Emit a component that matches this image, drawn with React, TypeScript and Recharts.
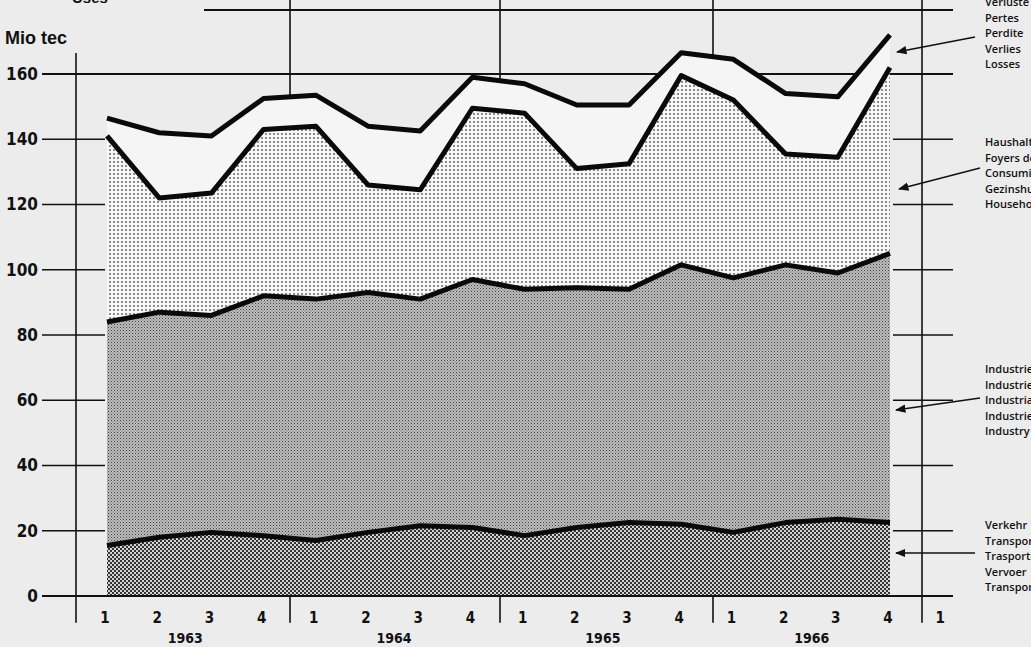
import { ComposedChart, Area, XAxis, YAxis, ReferenceLine } from "recharts";

// quarters 1963 Q1 .. 1966 Q4 (index on the x axis)
const quarterIndex = [0, 1, 2, 3, 4, 5, 6, 7, 8, 9, 10, 11, 12, 13, 14, 15];
const transport = [15.5, 18, 19.5, 18.5, 17, 19.5, 21.5, 21, 18.5, 21, 22.5, 22, 19.5, 22.5, 23.5, 22.5];
const industry = [68.5, 69, 66.5, 73.5, 74, 73.5, 69.5, 76, 75.5, 73.5, 71.5, 79.5, 78, 79, 75.5, 82.5];
const households = [57, 35, 37.5, 51, 53, 33, 33.5, 52.5, 54, 36.5, 38.5, 58, 54.5, 34, 35.5, 57];
const losses = [5.5, 20, 17.5, 9.5, 9.5, 18, 18, 9.5, 9, 19.5, 18, 7, 12.5, 18.5, 18.5, 10];

const quarterTicks = [0, 1, 2, 3, 4, 5, 6, 7, 8, 9, 10, 11, 12, 13, 14, 15, 16];
const yearTicks = [1.5, 5.5, 9.5, 13.5];
const yearLabels = ["1963", "1964", "1965", "1966"];
const yTicks = [0, 20, 40, 60, 80, 100, 120, 140, 160];

const legendLosses = ["Verluste", "Pertes", "Perdite", "Verlies", "Losses"];
const legendHouse = ["Haushalte", "Foyers domestiques", "Consumi domestici", "Gezinshuishoudingen", "Households"];
const legendIndustry = ["Industrie", "Industrie", "Industria", "Industrie", "Industry"];
const legendTransport = ["Verkehr", "Transports", "Trasporti", "Vervoer", "Transport"];

const data = quarterIndex.map((x, i) => ({
  x,
  transport: transport[i],
  industry: industry[i],
  households: households[i],
  losses: losses[i],
}));

const font = "'DejaVu Sans Condensed', 'DejaVu Sans', sans-serif";
const ink = "#111";

const QuarterTick = ({ x, y, payload }: any) => (
  <text x={x - 2} y={y + 19} textAnchor="middle" fontFamily={font} fontWeight={700} fontSize={15} fill={ink}>
    {(payload.value % 4) + 1}
  </text>
);

const YearTick = ({ x, y, payload }: any) => (
  <text x={x} y={y + 7} textAnchor="middle" fontFamily={font} fontWeight={700} fontSize={14} fill={ink}>
    {yearLabels[yearTicks.indexOf(payload.value)]}
  </text>
);

const ValueTick = ({ y, payload }: any) => (
  <text x={38} y={y + 6} textAnchor="end" fontFamily={font} fontWeight={700} fontSize={17} fill={ink}>
    {payload.value}
  </text>
);

function seg(x1: number, y1: number, x2: number, y2: number, key: string, w = 1.6, z?: number) {
  return (
    <ReferenceLine
      key={key}
      xAxisId="q"
      segment={[{ x: x1, y: y1 }, { x: x2, y: y2 }]}
      stroke={ink}
      strokeWidth={w}
      ifOverflow="visible"
      {...(z !== undefined ? { zIndex: z } : {})}
    />
  );
}

const legendGroups = [
  { lines: legendLosses, y: 6 },
  { lines: legendHouse, y: 146 },
  { lines: legendIndustry, y: 373 },
  { lines: legendTransport, y: 529 },
];

export default function App() {
  return (
    <div style={{ position: "absolute", left: 0, top: 0, width: 1031, height: 647, background: "#ececec", overflow: "hidden" }}>
      <svg width={0} height={0} style={{ position: "absolute" }}>
        <defs>
          <pattern id="pTransport" width={4} height={4} patternUnits="userSpaceOnUse">
            <rect width={4} height={4} fill="#d4d4d4" />
            <rect x={0} y={0} width={2} height={2} fill="#333" />
            <rect x={2} y={2} width={2} height={2} fill="#333" />
          </pattern>
          <pattern id="pIndustry" width={3} height={3} patternUnits="userSpaceOnUse">
            <rect width={3} height={3} fill="#bcbcbc" />
            <rect x={0} y={0} width={1} height={1} fill="#444" />
            <rect x={1.5} y={1.5} width={1} height={1} fill="#6a6a6a" />
          </pattern>
          <pattern id="pHouse" width={4} height={4} patternUnits="userSpaceOnUse">
            <rect width={4} height={4} fill="#f7f7f7" />
            <rect x={1} y={1} width={2} height={2} fill="#8c8c8c" />
          </pattern>
          <marker id="arrow" viewBox="0 0 10 10" refX={9} refY={5} markerWidth={7} markerHeight={7} orient="auto">
            <path d="M0,1 L10,5 L0,9 z" fill={ink} />
          </marker>
        </defs>
      </svg>

      <ComposedChart width={1031} height={647} data={data} margin={{ top: 0, right: 61, bottom: 0, left: 0 }}>
        <XAxis
          xAxisId="q"
          type="number"
          dataKey="x"
          domain={[-1.2835, 16.5326]}
          allowDataOverflow
          ticks={quarterTicks}
          interval={0}
          height={32}
          axisLine={false}
          tickLine={false}
          tick={<QuarterTick />}
        />
        <XAxis
          xAxisId="yr"
          type="number"
          dataKey="x"
          domain={[-1.2835, 16.5326]}
          allowDataOverflow
          ticks={yearTicks}
          interval={0}
          height={19}
          axisLine={false}
          tickLine={false}
          tick={<YearTick />}
        />
        <YAxis
          type="number"
          domain={[0, 182.68]}
          allowDataOverflow
          ticks={yTicks}
          interval={0}
          width={40}
          axisLine={false}
          tickLine={false}
          tick={<ValueTick />}
        />

        {/* long lines behind the areas */}
        {seg(3.506, -8.2, 3.506, 182.68, "v1", 1.6, 10)}
        {seg(7.529, -8.2, 7.529, 182.68, "v2", 1.6, 10)}
        {seg(11.609, -8.2, 11.609, 182.68, "v3", 1.6, 10)}
        {seg(-1.245, 160, 16.207, 160, "g160", 2, 10)}
        {seg(1.858, 179.6, 16.207, 179.6, "gtop", 2)}

        <Area xAxisId="q" type="linear" dataKey="transport" stackId="fill" fill="url(#pTransport)" fillOpacity={1} stroke="none" isAnimationActive={false} />
        <Area xAxisId="q" type="linear" dataKey="industry" stackId="fill" fill="url(#pIndustry)" fillOpacity={1} stroke="none" isAnimationActive={false} />
        <Area xAxisId="q" type="linear" dataKey="households" stackId="fill" fill="url(#pHouse)" fillOpacity={1} stroke="none" isAnimationActive={false} />
        <Area xAxisId="q" type="linear" dataKey="losses" stackId="fill" fill="#f5f5f5" fillOpacity={1} stroke="none" isAnimationActive={false} />

        {/* heavy boundary lines on top */}
        <Area xAxisId="q" type="linear" dataKey="transport" stackId="edge" fill="none" stroke="#0a0a0a" strokeWidth={5} strokeLinejoin="round" isAnimationActive={false} />
        <Area xAxisId="q" type="linear" dataKey="industry" stackId="edge" fill="none" stroke="#0a0a0a" strokeWidth={5} strokeLinejoin="round" isAnimationActive={false} />
        <Area xAxisId="q" type="linear" dataKey="households" stackId="edge" fill="none" stroke="#0a0a0a" strokeWidth={5} strokeLinejoin="round" isAnimationActive={false} />
        <Area xAxisId="q" type="linear" dataKey="losses" stackId="edge" fill="none" stroke="#0a0a0a" strokeWidth={5} strokeLinejoin="round" isAnimationActive={false} />

        {/* axes frame and short ticks */}
        {seg(-0.594, -8.2, -0.594, 166.4, "axL")}
        {seg(15.613, -8.2, 15.613, 182.68, "axR")}
        {seg(-1.245, 0, 16.207, 0, "base", 2)}
        {yTicks.filter((v) => v > 0 && v < 160).map((v) => seg(-1.245, v, -0.038, v, "tl" + v))}
        {yTicks.filter((v) => v > 0 && v < 160).map((v) => seg(15.057, v, 16.207, v, "tr" + v))}
      </ComposedChart>

      <svg width={1031} height={647} style={{ position: "absolute", left: 0, top: 0, pointerEvents: "none" }}>
        <text x={72} y={3} fontFamily="'Liberation Sans', sans-serif" fontWeight={700} fontSize={15} fill={ink}>Uses</text>
        <text x={5} y={44} fontFamily="'Liberation Sans', sans-serif" fontWeight={700} fontSize={18} fill={ink}>Mio tec</text>
        {legendGroups.map((g) =>
          g.lines.map((t, i) => (
            <text key={g.y + t + i} x={985} y={g.y + i * 15.5} fontFamily="'Open Sans', sans-serif" fontWeight={600} fontSize={11} fill={ink}>
              {t}
            </text>
          ))
        )}
        <line x1={975} y1={37} x2={897} y2={52} stroke={ink} strokeWidth={1.5} markerEnd="url(#arrow)" />
        <line x1={980} y1={168} x2={899} y2={189} stroke={ink} strokeWidth={1.5} markerEnd="url(#arrow)" />
        <line x1={980} y1={398} x2={896} y2={410} stroke={ink} strokeWidth={1.5} markerEnd="url(#arrow)" />
        <line x1={975} y1={553} x2={896} y2={553} stroke={ink} strokeWidth={1.5} markerEnd="url(#arrow)" />
      </svg>
    </div>
  );
}
